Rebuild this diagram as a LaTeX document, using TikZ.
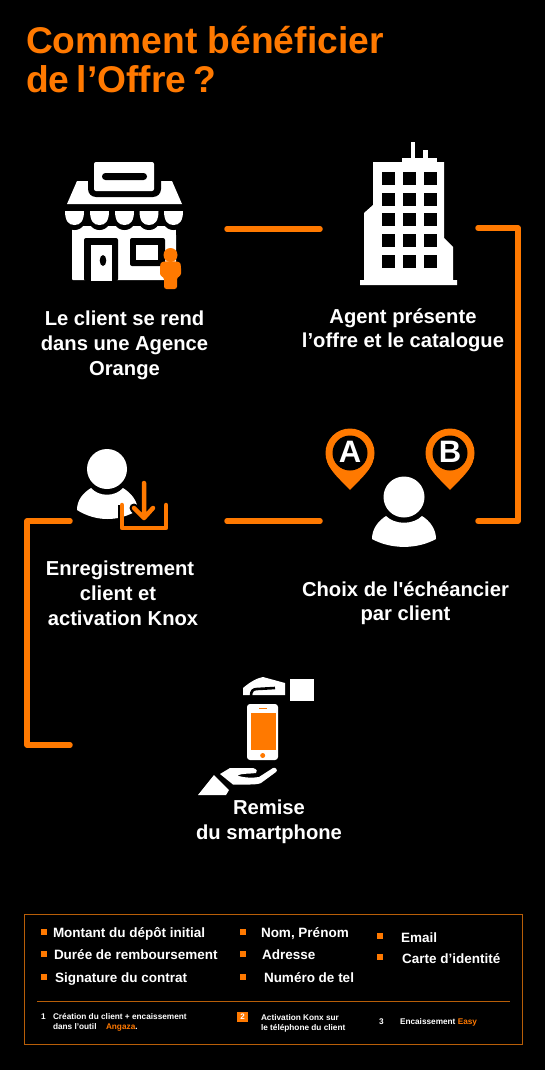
\documentclass[tikz,border=0pt]{standalone}
\usepackage{fontspec}
\setmainfont{Liberation Sans}
\newfontfamily\plainfont{Liberation Sans}
\definecolor{ora}{HTML}{FF7900}
\definecolor{dora}{HTML}{B85E08}
\tikzset{
 x=1pt,y=-1pt,
 every node/.style={inner sep=0pt,outer sep=0pt},
 heading/.style={text=ora,anchor=base west,font=\fontsize{37.2}{40}\selectfont\bfseries},
 lab/.style={text=white,anchor=base,font=\fontsize{20.2}{22}\selectfont\bfseries},
 item/.style={text=white,anchor=base west,font=\fontsize{13.5}{15}\selectfont\bfseries},
 tiny/.style={text=white,anchor=base west,font=\fontsize{8.25}{10}\selectfont\bfseries},
 bullet/.style={fill=ora,minimum width=5.5pt,minimum height=5.5pt},
 link/.style={draw=ora,line width=5.5pt,line cap=round,line join=round},
 wfill/.style={fill=white,draw=none},
 kfill/.style={fill=black,draw=none},
 ofill/.style={fill=ora,draw=none},
}
\newcommand{\scallop}[4]{% cx, r, y0, h
 (#1+#2,#3) .. controls (#1+#2,#3+0.72*#4) and (#1+0.62*#2,#3+#4) .. (#1,#3+#4) .. controls (#1-0.62*#2,#3+#4) and (#1-#2,#3+0.72*#4) .. (#1-#2,#3) -- cycle}
\begin{document}
\begin{tikzpicture}
\useasboundingbox (0,0) rectangle (545,1070);
\fill[black] (0,0) rectangle (545,1070);
% title
\node[heading] (t1) at (26,53.5) {Comment bénéficier};
\node[heading] (t2) at (26,93) {de\hspace{0.2em}l’Offre\hspace{0.2em}?};
% connector coordinates
\coordinate (a1) at (227,229); \coordinate (a2) at (320,229);
\coordinate (b1) at (478,228); \coordinate (b2) at (518,228); \coordinate (b3) at (518,521); \coordinate (b4) at (478,521);
\coordinate (c1) at (320,521); \coordinate (c2) at (227,521);
\coordinate (d1) at (70,521); \coordinate (d2) at (27,521); \coordinate (d3) at (27,745); \coordinate (d4) at (70,745);
\draw[link] (a1) -- (a2);
\draw[link] (b1) -- (b2) -- (b3) -- (b4);
\draw[link] (c1) -- (c2);
\draw[link] (d1) -- (d2) -- (d3) -- (d4);
% shop
\fill[wfill,rounded corners=1pt] (72,226) rectangle (176,280);
\foreach \cx in {74.5,99.5,124.5,149,173.5}{
 \fill[kfill] \scallop{\cx}{13.2}{205}{25};
}
\fill[kfill] (60,205) rectangle (190,211);
\fill[kfill] (60,205) rectangle (72,235);\fill[kfill] (176,205) rectangle (190,235);
\foreach \cx in {74.5,99.5,124.5,149,173.5}{
 \fill[wfill] \scallop{\cx}{9.5}{211}{14};
}
\fill[wfill] (77,181) -- (172,181) -- (182,204) -- (67,204) -- cycle;
\fill[kfill,rounded corners=8pt] (88,170) rectangle (161,197);
\fill[wfill,rounded corners=2pt] (94,162) rectangle (154,191);
\fill[kfill,rounded corners=3.4pt] (102,173) rectangle (147,180);
\fill[kfill,rounded corners=2pt] (84,238) -- (118,238) -- (118,281) -- (84,281) -- cycle;
\fill[wfill] (91,245) rectangle (112,281);
\fill[kfill] (103,260.5) ellipse[x radius=3.3,y radius=5.5];
\fill[kfill,rounded corners=2pt] (130,238) rectangle (165,266);
\fill[wfill] (136,245) rectangle (158,260);
\fill[ofill] (170.5,255) circle[radius=7];
\fill[ofill,rounded corners=2.5pt] (160,266) .. controls (161,262) and (165,261) .. (170.5,261.5) .. controls (176,261) and (180,262) .. (181,266) -- (181,276) -- (177,277) -- (177,289) -- (164,289) -- (164,277) -- (160,276) -- cycle;
% building
\fill[wfill] (411,142) rectangle (415,158);
\fill[wfill] (423,150) rectangle (428,158);
\fill[wfill] (402,158) rectangle (437,163);
\fill[wfill] (373,162) -- (444,162) -- (444,238) -- (453,247) -- (453,280) -- (457,280) -- (457,285) -- (360,285) -- (360,280) -- (364,280) -- (364,213) -- (373,205) -- cycle;
\foreach \wx in {382,403,424}\foreach \wy in {172,193,213,234,255}{
 \fill[kfill] (\wx,\wy) rectangle ++(12.5,12.5);
}
% person B (choice)
\fill[wfill] (404,497) circle[radius=20.5];
\fill[wfill] (372,539) .. controls (372,529) and (378,521) .. (386,516) .. controls (395,525) and (413,525) .. (422,516) .. controls (430,521) and (436,529) .. (436,539) .. controls (417,549.5) and (391,549.5) .. (372,539) -- cycle;
% pins
\foreach \px/\py/\nm/\ltr in {350/453/pa/A,450/453/pb/B}{
 \fill[ofill] (\px,\py) circle[radius=24.5];
 \fill[ofill] (\px-23,\py+8) .. controls (\px-20,\py+19) and (\px-6,\py+30) .. (\px,\py+37) .. controls (\px+6,\py+30) and (\px+20,\py+19) .. (\px+23,\py+8) -- cycle;
 \fill[kfill] (\px,\py) circle[radius=17.5];
 \node[text=white,font=\fontsize{31}{31}\selectfont\bfseries] (\nm) at (\px,\py-1) {\ltr};
}
% person download
\fill[wfill] (107,469) circle[radius=20];
\fill[wfill] (77,510) .. controls (77,500) and (83,493) .. (91,488) .. controls (99,497) and (115,497) .. (123,488) .. controls (131,493) and (137,500) .. (138,510) .. controls (119,522) and (96,522) .. (77,510) -- cycle;
\draw[black,line width=9pt,line cap=round,line join=round] (144,483) -- (144,518) (134,508) -- (144,518) -- (153,508);
\fill[black] (122,505) rectangle (118,530);
\draw[ora,line width=4.5pt,line cap=round,line join=round] (122,505) -- (122,528) -- (166,528) -- (166,505);
\draw[ora,line width=4.5pt,line cap=round,line join=round] (144,483) -- (144,518) (134,508) -- (144,518) -- (153,508);
% remise
\fill[wfill] (290,679) rectangle (314,701);
\fill[wfill] (243,695) -- (243,688) .. controls (250,682) and (257,678) .. (263,677) -- (285,683) -- (285,695) -- cycle;
\draw[black,line width=2.6pt,line cap=butt] (251,696) .. controls (251,691) and (253,689) .. (257,689) -- (275,688);
\fill[wfill,rounded corners=3pt] (247,704) rectangle (278,760);
\fill[ofill] (251,713) rectangle (276,750);
\fill[ofill] (259,707.5) rectangle (267,709);
\fill[ofill] (262.7,755.5) circle[radius=2.5];
\fill[wfill] (198,795) -- (214,775) -- (229,790) -- (226,795) -- cycle;
\fill[wfill] (220,774) -- (230,768) -- (253,768) .. controls (257,769) and (258,772) .. (256,773) .. controls (250,774) and (243,773) .. (237,775.5) .. controls (245,778) and (253,778) .. (259,777) -- (273,768) .. controls (276,767) and (278,770) .. (276,772) -- (261,783) .. controls (259,784) and (255,784.5) .. (250,784.5) -- (233,784.5) -- cycle;
% labels
\node[lab] (l1a) at (124.5,325) {Le client se rend};
\node[lab] (l1b) at (124.5,350) {dans une Agence};
\node[lab] (l1c) at (124.5,375) {Orange};
\node[lab] (l2a) at (403,323) {Agent présente};
\node[lab] (l2b) at (403,347) {l’offre et le catalogue};
\node[lab] (l3a) at (120,575) {Enregistrement};
\node[lab] (l3b) at (118,600) {client et};
\node[lab] (l3c) at (123,625) {activation Knox};
\node[lab] (l4a) at (405.5,596) {Choix de l{\plainfont\bfseries '}échéancier};
\node[lab] (l4b) at (405.5,620) {par client};
\node[lab] (l5a) at (269,814) {Remise};
\node[lab] (l5b) at (269,839) {du smartphone};
% box
\draw[dora,line width=1pt] (24,914) rectangle (522,1044);
\draw[dora,line width=1pt] (37,1001) -- (510,1001);
\foreach \bx/\by/\nm in {44/932/ba,44/954/bb,44/977/bc,243/932/bd,243/954/be,243/977/bf,380/936/bg,380/957/bh}{
 \node[bullet] (\nm) at (\bx,\by) {};
}
\node[item] (i1) at (53,937) {Montant du dépôt initial};
\node[item] (i2) at (54,959) {Durée de remboursement};
\node[item] (i3) at (55,982) {Signature du contrat};
\node[item] (i4) at (261,937) {Nom, Prénom};
\node[item] (i5) at (262,959) {Adresse};
\node[item] (i6) at (264,982) {Numéro de tel};
\node[item] (i7) at (401,942) {Email};
\node[item] (i8) at (402,963) {Carte d’identité};
\node[tiny] (n1) at (41,1019) {1};
\node[tiny] (s1a) at (53,1019) {Création du client + encaissement};
\node[tiny] (s1b) at (53,1029) {dans l’outil};
\node[tiny] (s1c) at (106,1029) {\textcolor{ora}{Angaza}.};
\node[fill=ora,minimum width=11pt,minimum height=10pt,text=white,font=\fontsize{8}{10}\selectfont\bfseries] (n2) at (242.5,1017) {2};
\node[tiny] (s2a) at (261,1020) {Activation Konx sur};
\node[tiny] (s2b) at (261,1030) {le téléphone du client};
\node[tiny] (n3) at (379,1024) {3};
\node[tiny] (s3) at (400,1024) {Encaissement \textcolor{ora}{Easy}};
\end{tikzpicture}
\end{document}
